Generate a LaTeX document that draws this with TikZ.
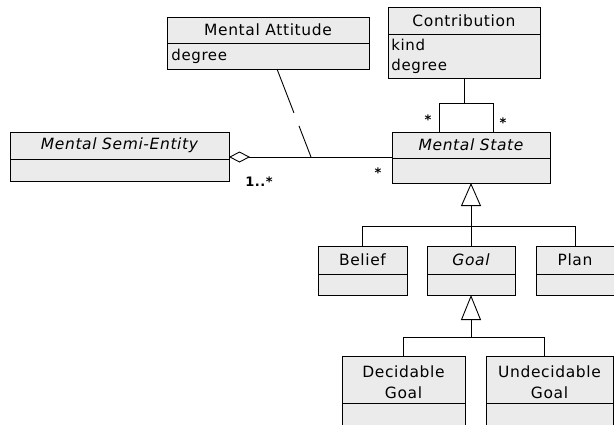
\documentclass[tikz,border=0pt]{standalone}
\usepackage{fontspec}
\setmainfont{DejaVu Sans}[LetterSpace=4]
\usetikzlibrary{arrows.meta}
\definecolor{umlgray}{HTML}{EBEBEB}
\begin{document}
\begin{tikzpicture}[x=1pt,y=-1pt,
  every path/.style={line width=0.9pt},
  cls/.style={draw, fill=umlgray, inner sep=0pt, outer sep=0pt},
  hdr/.style={inner sep=0pt, font=\fontsize{15.5}{21}\selectfont, align=center},
  attr/.style={inner sep=0pt, anchor=west, font=\fontsize{15}{20}\selectfont, align=left},
  mult/.style={inner sep=0pt, font=\fontsize{13}{15}\selectfont\bfseries}]
\useasboundingbox (0,0) rectangle (614,424);
% classes
\node[cls, minimum width=202pt, minimum height=52pt] (ma) at (268,43) {};
\draw (ma.west |- 0,43) -- (ma.east |- 0,43);
\node[hdr] (mat) at (268,30) {Mental Attitude};
\node[attr] (maa) at (171,56) {degree};

\node[cls, minimum width=152pt, minimum height=71pt] (co) at (464,42.5) {};
\draw (co.west |- 0,34) -- (co.east |- 0,34);
\node[hdr] (cot) at (464,20.5) {Contribution};
\node[attr] (coa) at (391,56) {kind\\degree};

\node[cls, minimum width=158pt, minimum height=51pt] (ms) at (471,157.5) {};
\draw (ms.west |- 0,158) -- (ms.east |- 0,158);
\node[hdr] (mst) at (471,145) {\itshape Mental State};

\node[cls, minimum width=219pt, minimum height=49pt] (mse) at (119.5,156.5) {};
\draw (mse.west |- 0,159) -- (mse.east |- 0,159);
\node[hdr] (mset) at (119.5,145.5) {\itshape Mental Semi-Entity};

\node[cls, minimum width=89pt, minimum height=49pt] (be) at (362.5,270.5) {};
\draw (be.west |- 0,274) -- (be.east |- 0,274);
\node[hdr] (bet) at (362.5,260) {Belief};

\node[cls, minimum width=88pt, minimum height=49pt] (go) at (471,270.5) {};
\draw (go.west |- 0,274) -- (go.east |- 0,274);
\node[hdr] (got) at (471,260) {\itshape Goal};

\node[cls, minimum width=78pt, minimum height=49pt] (pl) at (575,270.5) {};
\draw (pl.west |- 0,274) -- (pl.east |- 0,274);
\node[hdr] (plt) at (575,260) {Plan};

\node[cls, minimum width=123pt, minimum height=84pt] (dg) at (403.5,398) {};
\draw (dg.west |- 0,403) -- (dg.east |- 0,403);
\node[hdr] (dgt) at (403.5,382) {Decidable\\Goal};

\node[cls, minimum width=127pt, minimum height=84pt] (ug) at (549.5,398) {};
\draw (ug.west |- 0,403) -- (ug.east |- 0,403);
\node[hdr] (ugt) at (549.5,382) {Undecidable\\Goal};

% aggregation
\draw[{Diamond[open,length=21pt,width=11pt]}-] (mse.east |- 0,157) -- (ms.west |- 0,157);
\coordinate (ac) at (311,157);
\draw[dash pattern=on 47pt off 14pt on 60pt] (277,0 |- ma.south) -- (ac);
\node[mult] (m1) at (259,182) {1..*};
\node[mult] (m2) at (378,173) {*};

% contribution association
\draw (co.south) -- (464,103);
\draw (439,0 |- ms.north) -- (439,103) -- (493,103) -- (493,0 |- ms.north);
\node[mult] (m3) at (428,120) {*};
\node[mult] (m4) at (503,123) {*};

% generalisation level 1
\draw[-{Triangle[open,length=23pt,width=20pt]}] (go.north) -- (ms.south);
\draw (be.north) -- (362.5,226) -- (575,226) -- (pl.north);

% generalisation level 2
\draw[-{Triangle[open,length=25pt,width=20pt]}] (471,337) -- (go.south);
\draw (dg.north) -- (403.5,337) -- (544,337) -- (544,0 |- ug.north);
\end{tikzpicture}
\end{document}
